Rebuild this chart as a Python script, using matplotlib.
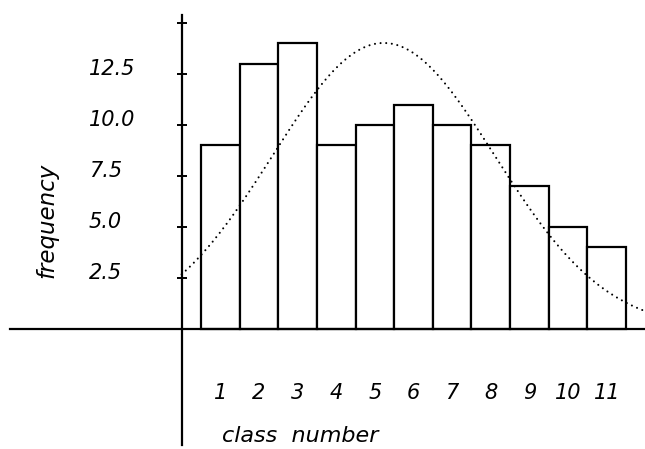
import matplotlib.pyplot as plt
import numpy as np

# class frequencies
classes = np.arange(1, 12)
freq = [9, 13, 14, 9, 10, 11, 10, 9, 7, 5, 4]
ytick_vals = [2.5, 5.0, 7.5, 10.0, 12.5]
ytick_labels = ["2.5", "5.0", "7.5", "10.0", "12.5"]

# fitted normal curve (mean / sd from the class data)
f = np.array(freq, dtype=float)
n = f.sum()
mu = (classes * f).sum() / n
sd = np.sqrt((classes**2 * f).sum() / n - mu**2)
xs = np.linspace(0, 12, 300)
ys = n / (sd * np.sqrt(2 * np.pi)) * np.exp(-(xs - mu)**2 / (2 * sd**2))

fig = plt.figure(figsize=(6.45, 4.49), dpi=100)
ax = fig.add_axes([0, 0, 1, 1])
ax.set_xlim(-4.70, 11.99)
ax.set_ylim(-5.88, 16.13)

ax.bar(classes, freq, width=1.0, facecolor="white", edgecolor="black", linewidth=1.6, zorder=2)
ax.plot(xs, ys, linestyle=(0, (0.01, 2.7)), dash_capstyle="round", color="black",
        linewidth=1.5, zorder=3)

for s in ["top", "right"]:
    ax.spines[s].set_visible(False)
ax.spines["bottom"].set_position(("data", 0))
ax.spines["bottom"].set_bounds(-4.45, 12)
ax.spines["left"].set_position(("data", 0))
ax.spines["left"].set_bounds(-5.7, 15.4)
ax.spines["bottom"].set_linewidth(1.6)
ax.spines["left"].set_linewidth(1.6)
ax.spines["bottom"].set_zorder(4)

ax.set_yticks(ytick_vals + [15.0])
ax.set_yticklabels([])
ax.tick_params(axis="y", direction="inout", length=7, width=1.4)
ax.set_xticks(np.arange(0.5, 12, 1.0).tolist() + [0])
ax.set_xticklabels([])
ax.tick_params(axis="x", direction="in", length=5, width=1.2)

ax.set_xticks(classes, minor=True)
ax.set_xticklabels([str(c) for c in classes], minor=True, fontsize=15, style="italic")
ax.tick_params(axis="x", which="minor", length=0, pad=39)

for v, lab in zip(ytick_vals, ytick_labels):
    ax.text(-2.40, v - 0.05, lab, ha="left", va="baseline", fontsize=15, style="italic")

ax.text(-3.49, 5.35, "frequency", rotation=90, ha="center", va="center", fontsize=16.5, style="italic")
ax.text(1.04, -5.25, "class  number", ha="left", va="center", fontsize=16, style="italic")

fig.savefig("out.png", dpi=100)
